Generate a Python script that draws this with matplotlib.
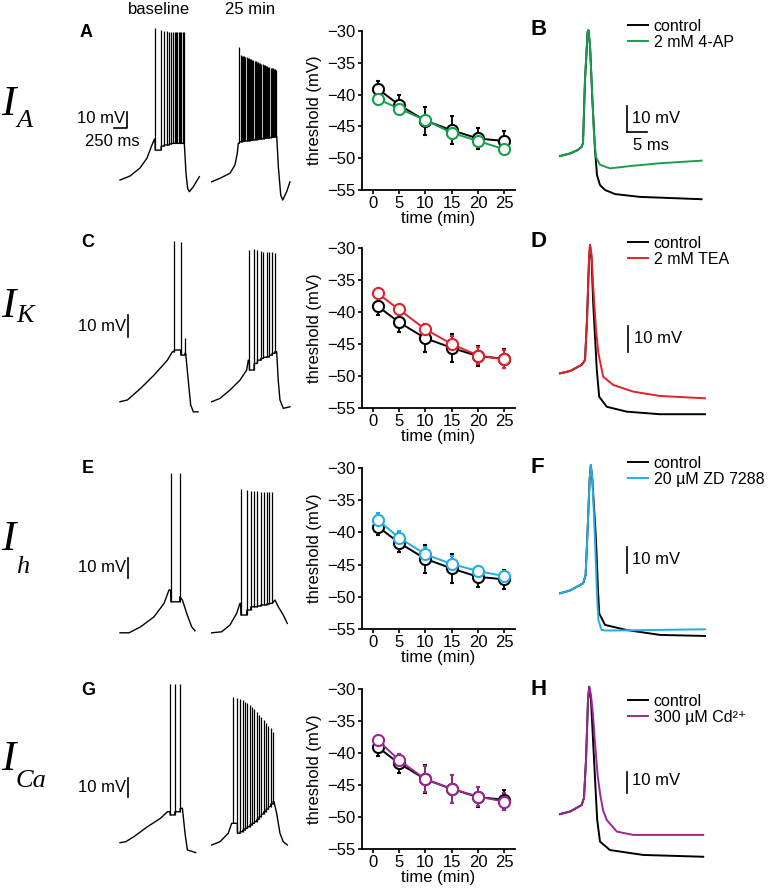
import matplotlib.pyplot as plt
import numpy as np

plt.rcParams['font.family'] = ['Liberation Sans', 'DejaVu Sans']
plt.rcParams['font.size'] = 12

# ---- threshold vs time (middle column) ----
time_min = [1, 5, 10, 15, 20, 25]
ctrl_mean = [-39.1, -41.6, -44.1, -45.6, -46.9, -47.3]
ctrl_sem = [1.3, 1.5, 2.2, 2.2, 1.6, 1.5]
ap4_mean = [-40.7, -42.2, -44.0, -46.0, -47.3, -48.6]
ap4_sem = [0.6, 0.7, 0.7, 1.0, 0.8, 0.6]
tea_mean = [-37.1, -39.6, -42.7, -45.0, -46.8, -47.4]
tea_sem = [0.7, 0.6, 0.5, 1.2, 1.3, 1.4]
zd_mean = [-38.1, -40.8, -43.4, -44.9, -46.0, -46.8]
zd_sem = [1.1, 1.0, 1.2, 1.2, 0.8, 0.8]
cd_mean = [-38.0, -41.1, -44.1, -45.6, -46.8, -47.6]
cd_sem = [0.5, 1.0, 2.0, 2.2, 1.5, 1.3]

drug_names = ['2 mM 4-AP', '2 mM TEA', '20 \u00b5M ZD 7288', '300 \u00b5M Cd\u00b2\u207a']
drug_colors = ['#17a04c', '#e4202a', '#23ade3', '#9a2890']
current_sub = ['A', 'K', 'h', 'Ca']

# ---- firing traces (left column), time in ms, voltage in mV ----
# each trace: ramp before spikes, spike times / peaks / troughs, repolarisation after
a0_ramp_t = [0, 192, 384, 518, 614, 660]
a0_ramp_v = [-62.5, -60.0, -55.0, -48.8, -40.6, -37.0]
a0_spk_t = [672, 787, 845, 897, 941, 985, 1023, 1050, 1075, 1100, 1127, 1152, 1177, 1204, 1223]
a0_spk_pk = [32.3, 31.3, 30.6, 30.6, 30.2, 30.2, 30.2, 30.2, 30.2, 30.2, 30.2, 30.2, 30.2, 30.2, 30.2]
a0_spk_tr = [-43.8, -41.3, -40.6, -40.6, -40.0, -39.6, -39.6, -39.6, -39.6, -39.6, -39.6, -39.6, -39.6, -39.6, -39.6]
a0_end_t = [1235, 1267, 1299, 1331, 1408, 1523]
a0_end_v = [-39.6, -58.3, -67.7, -69.8, -66.7, -60.4]

a1_ramp_t = [0, 159, 351, 447, 492, 511]
a1_ramp_v = [-63.6, -61.4, -58.3, -53.1, -45.8, -39.6]
a1_spk_t = [530, 555, 578, 600, 622, 645, 668, 690, 712, 735, 757, 780, 800, 822, 845, 866, 888,
            910, 932, 954, 976, 998, 1020, 1042, 1064, 1086, 1108, 1130, 1152, 1174, 1196, 1218, 1240]
a1_spk_pk = [20.8, 15.6, 15.3, 15.0, 14.7, 14.4, 14.1, 13.8, 13.5, 13.2, 12.9, 12.6, 12.3, 12.0, 11.7, 11.4,
             11.1, 10.8, 10.5, 10.2, 9.9, 9.6, 9.3, 9.0, 8.7, 8.4, 8.1, 7.8, 7.5, 7.2, 6.9, 6.6, 6.3]
a1_spk_tr = [-38.6, -38.5, -38.4, -38.3, -38.2, -38.1, -38.0, -37.9, -37.8, -37.7, -37.6, -37.5, -37.4,
             -37.3, -37.2, -37.1, -37.0, -36.9, -36.8, -36.7, -36.6, -36.5, -36.4, -36.3, -36.2, -36.1,
             -36.0, -35.9, -35.8, -35.7, -35.6, -35.5, -35.4]
a1_end_t = [1250, 1280, 1326, 1364, 1440, 1503]
a1_end_v = [-35.4, -54.2, -71.9, -75.0, -69.8, -63.6]

c0_ramp_t = [0, 142, 397, 653, 910, 1006]
c0_ramp_v = [-65.3, -64.5, -59.2, -53.2, -46.4, -42.6]
c0_spk_t = [1037, 1165, 1242]
c0_spk_pk = [7.9, 7.4, -36.5]
c0_spk_tr = [-41.8, -44.1, -43.3]
c0_end_t = [1261, 1319, 1357, 1409, 1498]
c0_end_v = [-43.3, -57.7, -66.8, -69.9, -69.9]

c1_ramp_t = [0, 159, 351, 543, 672, 703]
c1_ramp_v = [-65.3, -63.8, -60.0, -55.5, -50.9, -46.4]
c1_spk_t = [722, 812, 876, 941, 991, 1056, 1106, 1158, 1210]
c1_spk_pk = [3.6, 4.0, 3.6, 3.3, 2.9, 2.6, 2.9, 2.6, 2.1]
c1_spk_tr = [-50.9, -47.9, -46.4, -45.6, -45.1, -44.9, -44.1, -43.3, -42.6]
c1_end_t = [1248, 1278, 1311, 1375, 1503]
c1_end_v = [-42.6, -55.5, -64.5, -68.3, -67.6]

e0_ramp_t = [0, 173, 397, 653, 845, 941]
e0_ramp_v = [-69.9, -69.9, -66.9, -61.9, -55.2, -48.5]
e0_spk_t = [973, 1146]
e0_spk_pk = [9.9, 9.9]
e0_spk_tr = [-54.4, -51.9]
e0_end_t = [1198, 1281, 1376, 1440]
e0_end_v = [-53.5, -60.2, -66.9, -68.9]

e1_ramp_t = [0, 192, 351, 480, 543]
e1_ramp_v = [-69.9, -69.4, -66.0, -60.2, -55.2]
e1_spk_t = [557, 672, 749, 812, 876, 941, 1004, 1056, 1106, 1158]
e1_spk_pk = [1.9, 1.5, 1.2, 1.2, 1.2, 0.7, 0.7, 0.3, 0.3, 0.3]
e1_spk_tr = [-61.0, -58.5, -56.9, -56.9, -56.5, -56.0, -56.0, -55.5, -55.2, -55.2]
e1_end_t = [1215, 1279, 1375, 1452]
e1_end_v = [-53.5, -56.9, -61.0, -65.2]

g0_ramp_t = [0, 109, 269, 526, 781, 910]
g0_ramp_v = [-64.6, -64.1, -61.4, -56.2, -51.7, -48.3]
g0_spk_t = [960, 1050, 1152]
g0_spk_pk = [18.9, 18.9, 18.9]
g0_spk_tr = [-50.0, -48.3, -46.5]
g0_end_t = [1198, 1250, 1294, 1453]
g0_end_v = [-46.5, -60.0, -68.4, -69.8]

g1_ramp_t = [0, 159, 319, 384]
g1_ramp_v = [-65.8, -64.1, -59.6, -54.4]
g1_spk_t = [403, 492, 543, 595, 639, 684, 730, 774, 818, 864, 908, 952, 998, 1042, 1087, 1133, 1177]
g1_spk_pk = [12.3, 11.4, 10.9, 10.5, 9.6, 8.8, 7.9, 7.0, 5.6, 4.4, 2.6, 1.4, 0.0, -1.7, -3.2, -4.4, -6.2]
g1_spk_tr = [-54.4, -59.6, -58.8, -57.9, -57.0, -56.2, -55.3, -54.4, -53.5, -52.3, -50.9, -49.5,
             -48.3, -47.0, -45.6, -44.2, -43.0]
g1_end_t = [1196, 1248, 1311, 1375, 1452]
g1_end_v = [-43.0, -49.1, -59.6, -64.1, -65.8]

# ---- single action potentials (right column), ms / mV ----
b_pre_t = [0, 2.5, 4.5, 5.4, 5.75, 6.25, 6.9, 7.1]
b_pre_v = [-42.9, -41.9, -40.5, -39.3, -37.8, -13.3, 5.4, 6.1]
b_ctl_t = [7.5, 8.1, 8.75, 9.25, 10, 11.25, 13.75, 20, 35.4]
b_ctl_v = [0.3, -21.1, -40.5, -50.3, -54.2, -56.1, -57.7, -58.8, -59.7]
b_drug_t = [7.5, 8.0, 8.5, 9.0, 10, 12.5, 17.5, 25, 35.4]
b_drug_v = [0.3, -17.2, -34.7, -43.3, -46.3, -47.7, -46.8, -45.7, -44.7]

d_pre_t = [0, 2.5, 5.4, 6.25, 6.75, 7.25, 7.5]
d_pre_v = [-44.0, -43.1, -40.7, -38.8, -23.2, 0.1, 6.0]
d_ctl_t = [7.9, 8.3, 9.2, 9.8, 11.7, 16.7, 25, 36.25]
d_ctl_v = [0.1, -16.7, -42.7, -53.1, -57.0, -58.9, -59.9, -59.9]
d_drug_t = [7.9, 8.3, 9.0, 9.6, 10.8, 13.3, 18.3, 25, 36.25]
d_drug_v = [2.1, -10.3, -27.1, -36.2, -45.3, -48.5, -51.1, -52.8, -53.7]

f_pre_t = [0, 2.5, 5.8, 6.4, 6.9, 7.4, 7.7]
f_pre_v = [-43.7, -42.6, -39.8, -36.6, -19.1, 0.4, 6.2]
f_ctl_t = [8.1, 9.0, 9.5, 9.8, 11.25, 16.7, 25, 36.25]
f_ctl_v = [0.4, -23.0, -42.4, -51.5, -56.0, -58.0, -59.9, -60.3]
f_drug_t = [8.1, 8.75, 9.25, 9.6, 10.4, 11.7, 22.5, 36.25]
f_drug_v = [0.4, -23.0, -44.4, -54.1, -58.0, -58.2, -58.0, -57.7]

h_pre_t = [0, 2.5, 5.4, 6.0, 6.5, 7.0, 7.3]
h_pre_v = [-43.7, -42.7, -40.2, -37.4, -22.6, 0.7, 5.9]
h_ctl_t = [7.75, 8.3, 8.9, 9.3, 10, 12.5, 20.8, 35.8]
h_ctl_v = [0.7, -16.1, -34.3, -46.0, -54.4, -57.7, -59.6, -60.3]
h_drug_t = [7.75, 8.25, 8.75, 9.4, 10, 10.75, 11.7, 14.2, 18.3, 35.8]
h_drug_v = [2.6, -5.1, -16.1, -28.5, -35.6, -42.1, -46.0, -50.5, -51.8, -51.8]

W, H = 775, 889
fig = plt.figure(figsize=(W / 100, H / 100), dpi=100)


def px_axes(x0, y0, x1, y1):
    return fig.add_axes([x0 / W, 1 - y1 / H, (x1 - x0) / W, (y1 - y0) / H])


def ftext(x, y, s, **kw):
    fig.text(x / W, 1 - y / H, s, **kw)


def draw_sweep(ax, offset, pre_t, pre_v, spk_t, spk_pk, spk_tr, end_t, end_v):
    # slow membrane trace, with each spike as a vertical stroke on top of it
    t, v = list(pre_t), list(pre_v)
    lo = []
    for st, tr in zip(spk_t, spk_tr):
        lo.append(min(v[-1], tr))
        t += [st, st + 4]
        v += [v[-1], tr]
    t += list(end_t)
    v += list(end_v)
    ax.plot(np.array(t) + offset, v, color='black', lw=1.0)
    ax.vlines(np.array(spk_t) + offset + 2, lo, spk_pk, color='black', lw=0.9)


# left column: firing traces
left_sweeps = [
    ((a0_ramp_t, a0_ramp_v, a0_spk_t, a0_spk_pk, a0_spk_tr, a0_end_t, a0_end_v),
     (a1_ramp_t, a1_ramp_v, a1_spk_t, a1_spk_pk, a1_spk_tr, a1_end_t, a1_end_v)),
    ((c0_ramp_t, c0_ramp_v, c0_spk_t, c0_spk_pk, c0_spk_tr, c0_end_t, c0_end_v),
     (c1_ramp_t, c1_ramp_v, c1_spk_t, c1_spk_pk, c1_spk_tr, c1_end_t, c1_end_v)),
    ((e0_ramp_t, e0_ramp_v, e0_spk_t, e0_spk_pk, e0_spk_tr, e0_end_t, e0_end_v),
     (e1_ramp_t, e1_ramp_v, e1_spk_t, e1_spk_pk, e1_spk_tr, e1_end_t, e1_end_v)),
    ((g0_ramp_t, g0_ramp_v, g0_spk_t, g0_spk_pk, g0_spk_tr, g0_end_t, g0_end_v),
     (g1_ramp_t, g1_ramp_v, g1_spk_t, g1_spk_pk, g1_spk_tr, g1_end_t, g1_end_v)),
]
# pixel rows, y limits and 10 mV bar position for each row
left_rows = [(20, 205, (-78.1, 37.5), -30.0), (225, 420, (-73.6, 15.0), -36.0),
             (445, 640, (-73.5, 24.0), -42.5), (665, 860, (-73.7, 28.9), -40.5)]
gap = 1760  # ms between baseline and 25 min sweeps on the page

for i, ((sw0, sw1), (y0, y1, ylim, bar0)) in enumerate(zip(left_sweeps, left_rows)):
    ax = px_axes(110, y0, 300, y1)
    draw_sweep(ax, 0, *sw0)
    draw_sweep(ax, gap, *sw1)
    ax.set_xlim(-192, 3456)
    ax.set_ylim(*ylim)
    ax.axis('off')
    if i == 0:
        ax.plot([-116, 134, 134], [bar0, bar0, bar0 + 10], color='black', lw=1.2)
        ax.text(100, bar0 + 6, '10 mV', ha='right', va='center', fontsize=12)
        ax.text(-150, bar0 - 8.6, '250 ms', ha='center', va='center', fontsize=12)
    else:
        ax.plot([154, 154], [bar0, bar0 + 10], color='black', lw=1.2)
        ax.text(110, bar0 + 5, '10 mV', ha='right', va='center', fontsize=12)

# middle column: threshold
drug_means = [ap4_mean, tea_mean, zd_mean, cd_mean]
drug_sems = [ap4_sem, tea_sem, zd_sem, cd_sem]
mid_rows = [(31, 190), (248, 408), (468, 629), (689, 849)]
for i, (y0, y1) in enumerate(mid_rows):
    ax = px_axes(362, y0, 515, y1)
    style = dict(marker='o', mfc='white', ms=8, mew=1.5, lw=1.4, capsize=1.5, elinewidth=1.3)
    ax.errorbar(time_min, ctrl_mean, yerr=ctrl_sem, color='black', mec='black', **style)
    ax.errorbar(time_min, drug_means[i], yerr=drug_sems[i], color=drug_colors[i],
                mec=drug_colors[i], **style)
    ax.set_xlim(-2, 27)
    ax.set_ylim(-55, -30)
    ax.set_xticks([0, 5, 10, 15, 20, 25])
    ax.set_yticks([-55, -50, -45, -40, -35, -30])
    ax.spines[['top', 'right']].set_visible(False)
    ax.spines[['left', 'bottom']].set_linewidth(1.3)
    ax.tick_params(direction='out', length=3, width=1.2, labelsize=12, pad=1.5)
    ax.set_xlabel('time (min)', fontsize=12, labelpad=0)
    ax.set_ylabel('threshold (mV)', fontsize=12)
    ax.yaxis.set_label_coords(-0.26, 0.5)

# right column: action potentials
ap_data = [
    ((b_pre_t, b_pre_v), (b_ctl_t, b_ctl_v), (b_drug_t, b_drug_v)),
    ((d_pre_t, d_pre_v), (d_ctl_t, d_ctl_v), (d_drug_t, d_drug_v)),
    ((f_pre_t, f_pre_v), (f_ctl_t, f_ctl_v), (f_drug_t, f_drug_v)),
    ((h_pre_t, h_pre_v), (h_ctl_t, h_ctl_v), (h_drug_t, h_drug_v)),
]
right_rows = [(15, 210, 19, 16.7, -33.4, 10), (229.5, 424.5, 236, 17.1, -35.6, 10),
              (450.2, 645.2, 456, 16.7, -35.7, 10), (671, 866, 694, 16.7, -35.6, 8.4)]
for i, (((pt, pv), (ct, cv), (dt, dv)), (y0, y1, leg_top, bx, by, bh)) in enumerate(zip(ap_data, right_rows)):
    ax = px_axes(555, y0, 710, y1)
    l1, = ax.plot(pt + ct, pv + cv, color='black', lw=1.4)
    l2, = ax.plot(pt + dt, pv + dv, color=drug_colors[i], lw=1.4)
    ax.set_xlim(-1.25, 37.5)
    ax.set_ylim(-63.9, 12.0)
    ax.axis('off')
    ax.plot([bx, bx], [by, by + bh], color='black', lw=1.2)
    ax.text(bx + 1.3, by + 5, '10 mV', ha='left', va='center', fontsize=12)
    if i == 0:
        ax.plot([bx, bx + 5], [by, by], color='black', lw=1.2)
        ax.text(bx + 1.5, by - 5.2, '5 ms', ha='left', va='center', fontsize=12)
    ax.legend([l1, l2], ['control', drug_names[i]], loc='upper left',
              bbox_to_anchor=(628 / W, 1 - leg_top / H), bbox_transform=fig.transFigure,
              frameon=False, fontsize=11.5, handlelength=1.25, handletextpad=0.35,
              labelspacing=0.05, borderpad=0, borderaxespad=0)

# panel letters and header text
for s, x, y, fs in [('A', 80, 37, 13), ('C', 81, 247, 13), ('E', 82, 473, 13), ('G', 81, 695, 13),
                    ('B', 531, 35, 16), ('D', 531, 247, 16), ('F', 531, 473, 16), ('H', 531, 695, 16)]:
    ftext(x, y, s, fontsize=fs, fontweight='bold', va='baseline', ha='left')
ftext(159, 9, 'baseline', ha='center', va='center', fontsize=12)
ftext(250, 9, '25 min', ha='center', va='center', fontsize=12)

# current labels
for sub, yI, ys in zip(current_sub, [115, 317, 550, 770], [127, 322, 573, 787]):
    ftext(1, yI, 'I', family='Liberation Serif', style='italic', fontsize=31, va='baseline', ha='left')
    ftext(16, ys, sub, family='Liberation Serif', style='italic', fontsize=19, va='baseline', ha='left')

fig.savefig('out.png', dpi=100)
